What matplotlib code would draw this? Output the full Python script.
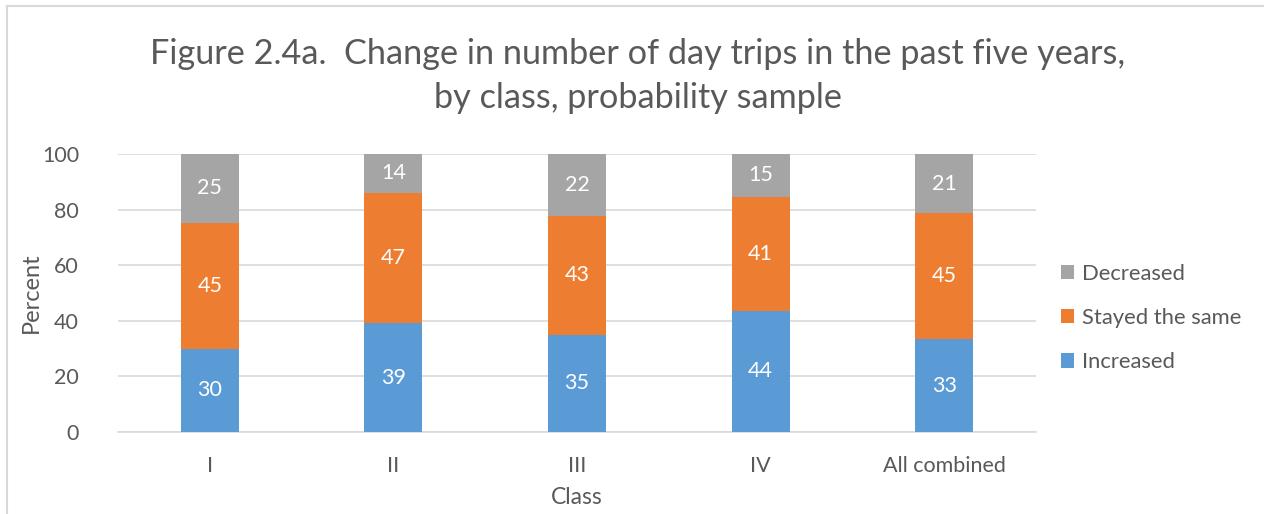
import numpy as np
import matplotlib.pyplot as plt
from matplotlib.lines import Line2D

plt.rcParams['font.family'] = ['Lato', 'DejaVu Sans']

classes = ["I", "II", "III", "IV", "All combined"]
increased = [30.0, 39.2, 35.0, 43.6, 33.4]
stayed = [45.2, 46.8, 42.6, 41.0, 45.3]
decreased = [24.8, 14.0, 22.4, 15.4, 21.3]
series_names = ["Increased", "Stayed the same", "Decreased"]
colors = ["#5B9BD5", "#ED7D31", "#A5A5A5"]
text_color = "#595959"

W, H = 1264, 514
fig = plt.figure(figsize=(W / 100, H / 100), dpi=100)
ax = fig.add_axes([118 / W, 82 / H, 918 / W, 278 / H])

x = np.arange(len(classes))
width = 0.315
bottom = np.zeros(len(classes))
handles = []
for vals, name, c in zip([increased, stayed, decreased], series_names, colors):
    bars = ax.bar(x, vals, width, bottom=bottom, color=c, label=name, zorder=3)
    handles.append(bars)
    for xi, b, v in zip(x, bottom, vals):
        ax.text(xi, b + v / 2, f"{round(v):d}", ha="center", va="center",
                color="white", fontsize=15.5, zorder=4)
    bottom += np.array(vals)

ax.set_xlim(-0.5, len(classes) - 0.5)
ax.set_ylim(0, 100)
ax.set_yticks(range(0, 101, 20))
ax.set_xticks(x)
ax.set_xticklabels(classes)
ax.yaxis.grid(True, color="#D9D9D9", linewidth=1.2, zorder=0)
ax.tick_params(axis="both", length=0, labelsize=15.5, labelcolor=text_color)
ax.tick_params(axis="x", pad=17)
ax.tick_params(axis="y", pad=28)
for s in ["top", "right", "left"]:
    ax.spines[s].set_visible(False)
ax.spines["bottom"].set_color("#D9D9D9")
ax.spines["bottom"].set_linewidth(1.2)

ax.set_xlabel("Class", fontsize=16.5, color=text_color, labelpad=8)
fig.text(31 / W, (H - 293) / H, "Percent", rotation=90, ha="center", va="center",
         fontsize=17, color=text_color)

fig.text(638 / W, (H - 76) / H,
         "Figure 2.4a.  Change in number of day trips in the past five years,\nby class, probability sample",
         ha="center", va="center", fontsize=24.7, color=text_color, linespacing=1.48)

leg = fig.legend(handles[::-1], series_names[::-1], loc="center left",
                 bbox_to_anchor=(1041 / W, (H - 318) / H), frameon=False,
                 fontsize=15.8, labelspacing=1.1, handlelength=0.62,
                 handleheight=0.62, handletextpad=0.35)
for t in leg.get_texts():
    t.set_color(text_color)

fig.add_artist(Line2D([7 / W, 7 / W], [0, 1 - 6 / H], color="#D9D9D9",
                      linewidth=1.5, transform=fig.transFigure))
fig.add_artist(Line2D([7 / W, 1], [1 - 6 / H, 1 - 6 / H], color="#D9D9D9",
                      linewidth=1.5, transform=fig.transFigure))

fig.savefig("out.png", dpi=100, facecolor="white")
